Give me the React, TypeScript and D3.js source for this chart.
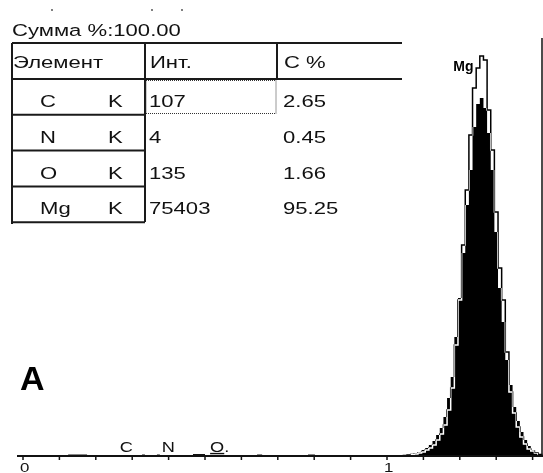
import React from 'react';
import * as d3 from 'd3';

// table data
const elements = ['C', 'N', 'O', 'Mg'];
const lines = ['K', 'K', 'K', 'K'];
const intensities = ['107', '4', '135', '75403'];
const percents = ['2.65', '0.45', '1.66', '95.25'];
const total = '100.00';

// spectrum, 10 eV channels starting at 1.045 keV
const binStart = 1.045;
const binWidth = 0.01;
const measured = [5, 10, 20, 30, 40, 60, 80, 110, 150, 210, 280, 390, 580, 790, 1190, 1580, 2030, 2510, 2860,
  3290, 3520, 3580, 3480, 3230, 2860, 2240, 1680, 1340, 960, 710, 490, 350, 240, 160, 100, 60, 30, 10];
const reference = [5, 10, 15, 20, 30, 40, 60, 80, 110, 160, 220, 310, 460, 680, 1110, 1560, 2110, 2660, 3210,
  3680, 3880, 4000, 3960, 3460, 3060, 2440, 1880, 1560, 1040, 640, 430, 290, 190, 120, 70, 50, 30, 15];

// low energy background blips (keV from, keV to, counts)
const bgFrom = [-0.015, 0.124, 0.327, 0.368, 0.467, 0.541, 0.643, 0.783, 0.80];
const bgTo = [0.10, 0.176, 0.335, 0.376, 0.50, 0.549, 0.657, 0.802, 1.06];
const bgCounts = [10, 15, 15, 15, 20, 10, 15, 15, 10];

// KLM markers
const markerNames = ['C', 'N', 'O'];
const markerKeV = [0.277, 0.392, 0.525];

const tickValues = d3.range(0, 1.45, 0.1);
const tickLabels = ['0', '1'];

const font = 'Liberation Sans, Arial, sans-serif';
const sx = 1.3;

function T(props: { x: number; y: number; children: any; size?: number }) {
  return (
    <text transform={`translate(${props.x},${props.y}) scale(${sx},1)`} fontFamily={font}
      fontSize={props.size || 17} fill="#111">{props.children}</text>
  );
}

export default function App() {
  const x = d3.scaleLinear().domain([0, 1]).range([23, 387]);
  const y = d3.scaleLinear().domain([0, 4000]).range([456, 56]);

  const stepPath = (counts: number[], close: boolean) => {
    let d = `M${x(binStart)},${y(0)}`;
    counts.forEach((c, i) => {
      const xl = x(binStart + i * binWidth);
      const xr = x(binStart + (i + 1) * binWidth);
      d += `L${xl},${y(c)}L${xr},${y(c)}`;
    });
    d += `L${x(binStart + counts.length * binWidth)},${y(0)}`;
    return close ? d + 'Z' : d;
  };

  const rowTop = (i: number) => 79 + i * 35.8;
  const colX = [12, 145, 277, 402];

  return (
    <div style={{ position: 'fixed', left: 0, top: 0 }}>
      <svg width={543} height={473} style={{ display: 'block' }}>
        <rect width={543} height={473} fill="#fff" />

        {/* header */}
        <circle cx={52} cy={10} r={0.9} fill="#444" />
        <circle cx={152} cy={10} r={0.9} fill="#444" />
        <circle cx={182} cy={10} r={0.9} fill="#444" />
        <T x={12} y={36}>{'Сумма %:' + total}</T>

        <g stroke="#1a1a1a" strokeWidth={2} fill="none">
          <line x1={colX[0]} x2={colX[3]} y1={43} y2={43} />
          <line x1={colX[0]} x2={colX[3]} y1={79} y2={79} />
          <line x1={colX[1]} x2={colX[1]} y1={43} y2={222} />
          <line x1={colX[2]} x2={colX[2]} y1={43} y2={79} />
          <line x1={colX[0]} x2={colX[0]} y1={43} y2={224} />
          {elements.map((e, i) => (
            <line key={e} x1={colX[0]} x2={colX[1]} y1={rowTop(i + 1)} y2={rowTop(i + 1)} />
          ))}
        </g>
        <rect x={146} y={80.5} width={130} height={33} fill="none" stroke="#333" strokeWidth={1} strokeDasharray="1,1" />

        <T x={13} y={68}>Элемент</T>
        <T x={150} y={68}>Инт.</T>
        <T x={284} y={68}>C %</T>
        {elements.map((e, i) => (
          <g key={e}>
            <T x={40} y={rowTop(i) + 28}>{e}</T>
            <T x={108} y={rowTop(i) + 28}>{lines[i]}</T>
            <T x={149} y={rowTop(i) + 28}>{intensities[i]}</T>
            <T x={283} y={rowTop(i) + 28}>{percents[i]}</T>
          </g>
        ))}

        <text x={20} y={390} fontFamily={font} fontWeight="bold" fontSize={34} fill="#000">A</text>

        {/* spectrum */}
        <path d={stepPath(measured, true)} fill="#000" />
        <path d={stepPath(reference, false)} fill="none" stroke="#fff" strokeWidth={1.5}
          style={{ mixBlendMode: 'difference' }} />
        {bgFrom.map((e0, i) => (
          <rect key={i} x={x(e0)} y={y(bgCounts[i])} width={x(bgTo[i]) - x(e0)} height={y(0) - y(bgCounts[i])} fill="#111" />
        ))}

        {/* axis */}
        <line x1={17} x2={543} y1={456} y2={456} stroke="#111" strokeWidth={2} />
        <line x1={542} x2={542} y1={38} y2={456} stroke="#111" strokeWidth={1.5} />
        {tickValues.map((t, i) => (
          <line key={i} x1={x(t)} x2={x(t)} y1={456} y2={460} stroke="#111" strokeWidth={1.5} />
        ))}
        {tickLabels.map((l) => (
          <T key={l} x={x(+l) - 3} y={471.5} size={13}>{l}</T>
        ))}

        {markerNames.map((m, i) => (
          <T key={m} x={x(markerKeV[i]) - 4} y={452} size={14}>
            {m === 'O' ? <tspan textDecoration="underline">O</tspan> : m}{m === 'O' ? '.' : ''}
          </T>
        ))}
        <text x={x(1.254) - 6} y={71} textAnchor="end" fontFamily={font} fontWeight="bold" fontSize={14} fill="#000">Mg</text>
      </svg>
    </div>
  );
}
